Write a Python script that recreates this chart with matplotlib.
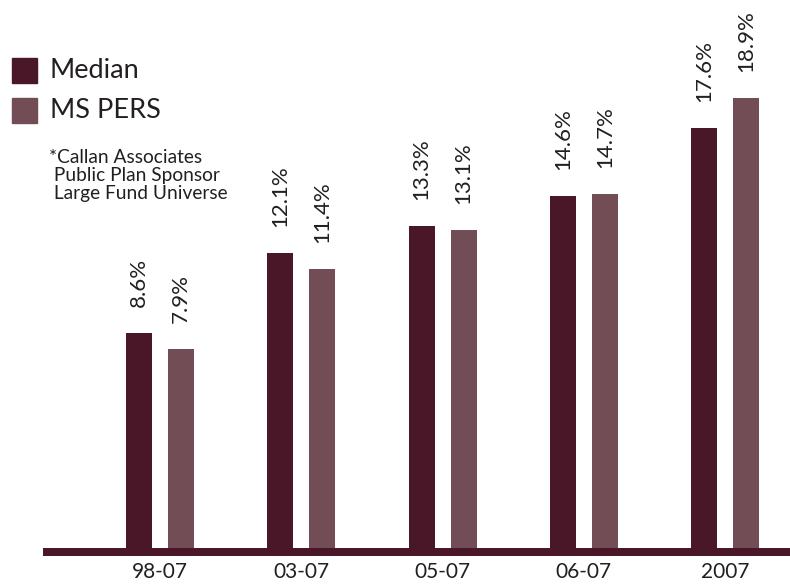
import matplotlib
matplotlib.use("Agg")
import matplotlib.pyplot as plt
import numpy as np

# dados
periodos = ["98-07", "03-07", "05-07", "06-07", "2007"]
mediana = [8.6, 12.1, 13.3, 14.6, 17.6]
ms_pers = [7.9, 11.4, 13.1, 14.7, 18.9]
serie_nomes = ["Median", "MS PERS"]
nota = "*Callan Associates\n Public Plan Sponsor\n Large Fund Universe"

cor_mediana = "#4a1729"
cor_pers = "#734d56"
cor_texto = "#231f20"

plt.rcParams["font.family"] = ["Lato", "DejaVu Sans"]

W, H = 790, 584
fig = plt.figure(figsize=(W / 100, H / 100), dpi=100)
ax = fig.add_axes([0, 0, 1, 1])

base = -0.8  # eixo nao comeca em zero
px = 22.85   # pixels por ponto percentual
ax.set_ylim(base - 36 / px, base + 548 / px)
passo = 141.3
ax.set_xlim(-160 / passo, (W - 160) / passo)
ax.axis("off")

x = np.arange(len(periodos))
larg = 26 / passo
desl = 21 / passo

alt_med = [v - base for v in mediana]
alt_pers = [v - base for v in ms_pers]
ax.bar(x - desl, alt_med, width=larg, bottom=base, color=cor_mediana)
ax.bar(x + desl, alt_pers, width=larg, bottom=base, color=cor_pers)

# rotulos rotacionados
gap = 26 / px
for xi, v in zip(x - desl, mediana):
    ax.text(xi, v + gap, f"{v:.1f}%", rotation=90, ha="center", va="bottom",
            fontsize=16, color=cor_texto)
for xi, v in zip(x + desl, ms_pers):
    ax.text(xi, v + gap, f"{v:.1f}%", rotation=90, ha="center", va="bottom",
            fontsize=16, color=cor_texto)

# linha de base
ax.axhline(base - 4 / px, xmin=43 / W, xmax=1, color=cor_mediana,
           linewidth=8 * 0.72, solid_capstyle="butt")

for xi, p in zip(x, periodos):
    ax.text(xi, base - 24 / px, p, ha="center", va="center",
            fontsize=15, color=cor_texto)

# legenda manual
for i, (nome, cor) in enumerate(zip(serie_nomes, [cor_mediana, cor_pers])):
    y0 = 58 + i * 40
    fig.patches.append(plt.Rectangle((12 / W, 1 - (y0 + 25) / H), 25 / W, 25 / H,
                                     transform=fig.transFigure, color=cor))
    fig.text(50 / W, 1 - (y0 + 12.5) / H, nome, ha="left", va="center",
             fontsize=19.5, color=cor_texto)

fig.text(49 / W, 1 - 149 / H, nota, ha="left", va="top", fontsize=13.8,
         color=cor_texto, linespacing=1.08)

fig.savefig("out.png", dpi=100)
